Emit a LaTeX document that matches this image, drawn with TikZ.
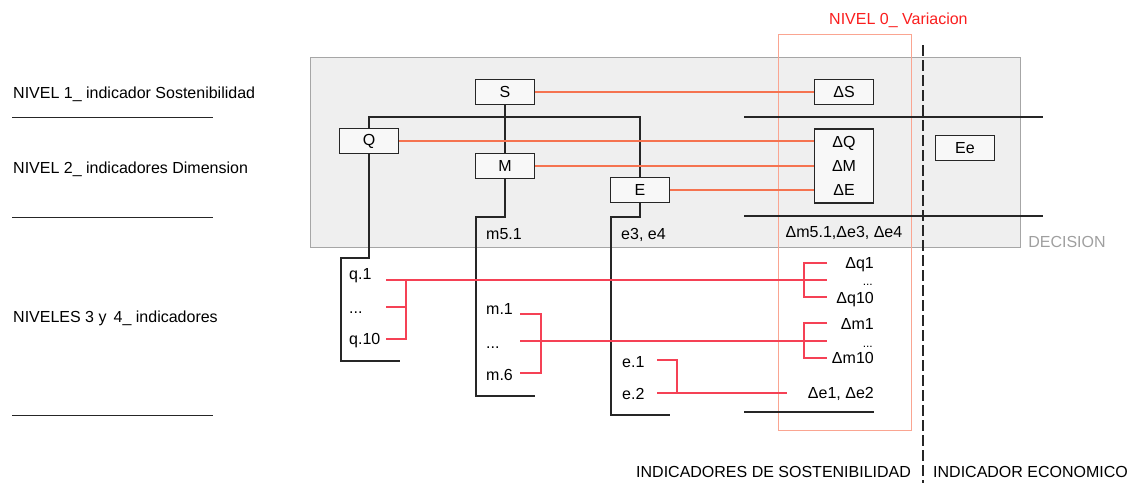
\documentclass[tikz,border=0pt]{standalone}
\usepackage{fontspec}
\setmainfont{Liberation Sans}
\definecolor{orl}{RGB}{245,115,80}
\definecolor{rdl}{RGB}{245,65,85}
\definecolor{pinkbox}{RGB}{250,165,145}
\definecolor{graybg}{RGB}{239,239,239}
\definecolor{titred}{RGB}{250,30,30}
\begin{document}
\begin{tikzpicture}[x=1pt,y=-1pt,
  font=\fontsize{16}{18}\selectfont,
  box/.style={draw=black!85, line width=1.3pt, fill=white!55!graybg, minimum width=59pt, minimum height=25pt, inner sep=0pt},
  blk/.style={draw=black!85, line width=1.3pt},
  org/.style={draw=orl, line width=1.6pt},
  rdd/.style={draw=rdl, line width=1.3pt},
  lbl/.style={inner sep=0pt},
  sdots/.style={inner sep=0pt, font=\fontsize{12}{13}\selectfont}]
\useasboundingbox (0,0) rectangle (1132,483);
% backgrounds
\draw[gray!70, fill=graybg, line width=0.9pt] (310,57) rectangle (1020,247);
\draw[pinkbox, line width=0.8pt] (778,34) rectangle (911,430);
\draw[black!85, line width=1.4pt, dash pattern=on 11pt off 4pt] (923,45) -- (923,483);
% titles
\node[lbl, anchor=base west, text=titred] (t0) at (829,24) {NIVEL 0\_ Variacion};
\node[lbl, anchor=base west] (l1) at (13,98) {NIVEL 1\_ indicador Sostenibilidad};
\node[lbl, anchor=base west] (l2) at (13,173) {NIVEL 2\_ indicadores Dimension};
\node[lbl, anchor=base west] (l3) at (13,322) {NIVELES 3 y \,4\_ indicadores};
\draw[blk, line width=1pt] (12,117) -- (213,117);
\draw[blk, line width=1pt] (12,217) -- (213,217);
\draw[blk, line width=1pt] (12,415) -- (213,415);
\node[lbl, anchor=base west] (b1) at (636,477) {INDICADORES DE SOSTENIBILIDAD};
\node[lbl, anchor=base west] (b2) at (933,477) {INDICADOR ECONOMICO};
\node[lbl, anchor=base, text=gray!75] (dec) at (1067,247) {DECISION};
% level boxes
\node[box] (S) at (505,92) {S};
\node[box] (Q) at (369,141) {Q};
\node[box] (M) at (505,166) {M};
\node[box] (E) at (640,190) {E};
\node[box] (dS) at (844,92) {ΔS};
\node[box, minimum height=74pt] (dbox) at (844,166) {};
\node[lbl] (dQ) at (844,143) {ΔQ};
\node[lbl] (dM) at (844,166) {ΔM};
\node[lbl] (dE) at (844,190) {ΔE};
\node[box] (Ee) at (965,148) {Ee};
% separators right
\draw[blk] (744,117) -- (1043,117);
\draw[blk] (744,216) -- (1043,216);
\draw[blk] (744,412) -- (874,412);
% tree
\coordinate (top) at (505,117);
\draw[blk] (S.south) -- (M.north);
\draw[blk] (Q.north) |- (top) -| (E.north);
\draw[blk] (Q.south) -- (369,258) -- (341,258) -- (341,361) -- (400,361);
\draw[blk] (M.south) -- (505,217) -- (476,217) -- (476,396) -- (535,396);
\draw[blk] (E.south) -- (640,217) -- (611,217) -- (611,415) -- (670,415);
% orange links
\draw[org] (S.east) -- (dS.west);
\draw[org] (Q.east) -- (Q.east -| dbox.west);
\draw[org] (M.east) -- (M.east -| dbox.west);
\draw[org] (E.east) -- (E.east -| dbox.west);
% level 2 texts
\node[lbl, anchor=base west] (m51) at (486,239) {m5.1};
\node[lbl, anchor=base west] (e34) at (621,239) {e3, e4};
\node[lbl, anchor=base] (dm51) at (844,237) {Δm5.1,Δe3, Δe4};
% level 3 texts
\node[lbl, anchor=base west] (q1) at (349,279) {q.1};
\node[lbl, anchor=base west] (qd) at (349,313) {...};
\node[lbl, anchor=base west] (q10) at (349,344) {q.10};
\node[lbl, anchor=base west] (m1) at (486,314) {m.1};
\node[lbl, anchor=base west] (md) at (486,348) {...};
\node[lbl, anchor=base west] (m6) at (486,380) {m.6};
\node[lbl, anchor=base west] (e1) at (622,367) {e.1};
\node[lbl, anchor=base west] (e2) at (622,399) {e.2};
\node[lbl, anchor=base east] (dq1) at (874,268) {Δq1};
\node[sdots, anchor=base east] (dqd) at (873,285) {...};
\node[lbl, anchor=base east] (dq10) at (874,303) {Δq10};
\node[lbl, anchor=base east] (dm1) at (874,329) {Δm1};
\node[sdots, anchor=base east] (dmd) at (873,347) {...};
\node[lbl, anchor=base east] (dm10) at (874,363) {Δm10};
\node[lbl, anchor=base east] (de12) at (874,398) {Δe1, Δe2};
% red links q
\draw[rdd] (386,280) -- (827,280);
\draw[rdd] (386,307) -- (406,307);
\draw[rdd] (386,339) -- (406,339) -- (406,280);
\draw[rdd] (827,263) -- (804,263) -- (804,297) -- (827,297);
% red links m
\draw[rdd] (520,314) -- (541,314) -- (541,373) -- (520,373);
\draw[rdd] (520,341) -- (827,341);
\draw[rdd] (827,323) -- (804,323) -- (804,358) -- (827,358);
% red links e
\draw[rdd] (657,360) -- (677,360) -- (677,393);
\draw[rdd] (657,393) -- (787,393);
\end{tikzpicture}
\end{document}
